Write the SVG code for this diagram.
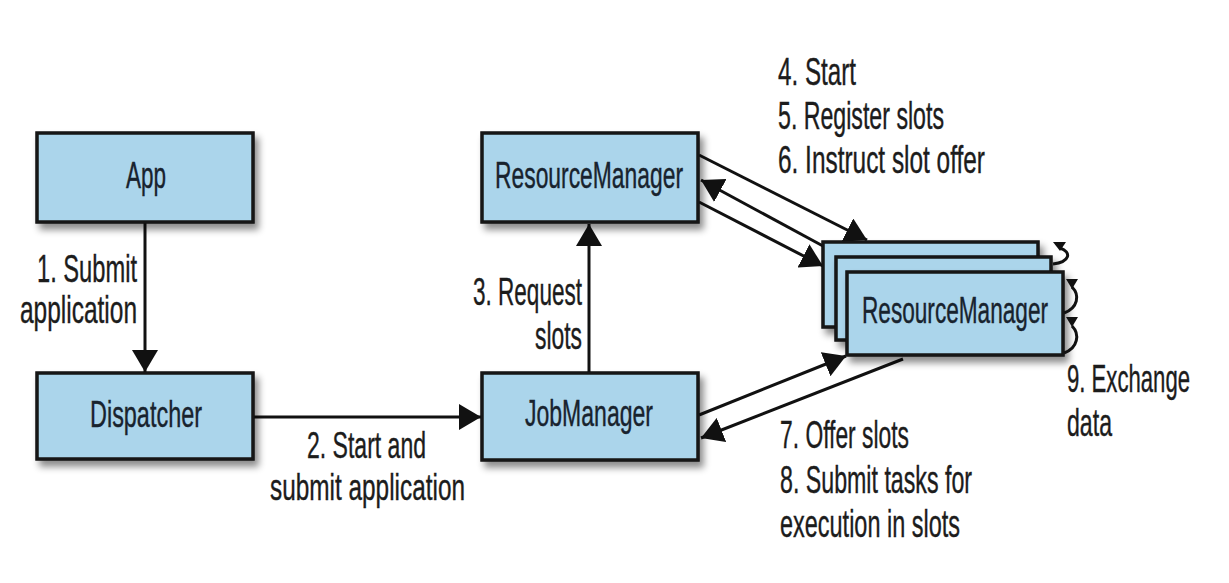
<svg xmlns="http://www.w3.org/2000/svg" width="1229" height="583" viewBox="0 0 1229 583">
<style>
.box{fill:#abd5eb;stroke:#141414;stroke-width:3.5}
.bl{font-family:"Liberation Sans",Arial,sans-serif;font-size:37px;fill:#18232e;stroke:#18232e;stroke-width:0.4}
.lb{font-family:"Liberation Sans",Arial,sans-serif;font-size:39px;fill:#1c1c1c;stroke:#1c1c1c;stroke-width:0.4}
.ln{stroke:#111;stroke-width:3;fill:none}
.hd{fill:#111}
</style>
<defs>
<filter id="sh" x="-10%" y="-10%" width="125%" height="135%">
<feDropShadow dx="4" dy="6" stdDeviation="3.5" flood-color="#000" flood-opacity="0.45"/>
</filter>
<marker id="ah" viewBox="0 0 22 26" refX="22" refY="13" markerWidth="22" markerHeight="26" markerUnits="userSpaceOnUse" orient="auto">
<path d="M0,0 L22,13 L0,26 Z" class="hd"/>
</marker>
</defs>
<rect width="1229" height="583" fill="#ffffff"/>

<g id="connectors">
<line class="ln" x1="145" y1="222" x2="145" y2="372" marker-end="url(#ah)"/>
<line class="ln" x1="253" y1="417" x2="481" y2="417" marker-end="url(#ah)"/>
<line class="ln" x1="589" y1="373" x2="589" y2="224" marker-end="url(#ah)"/>
<line class="ln" x1="699" y1="155" x2="867" y2="240" marker-end="url(#ah)"/>
<line class="ln" x1="823" y1="246" x2="701" y2="180" marker-end="url(#ah)"/>
<line class="ln" x1="699" y1="202" x2="823" y2="266" marker-end="url(#ah)"/>
<line class="ln" x1="699" y1="415" x2="846" y2="356" marker-end="url(#ah)"/>
<line class="ln" x1="903" y1="359" x2="701" y2="438" marker-end="url(#ah)"/>
</g>

<g id="app">
<rect class="box" x="37" y="133" width="216" height="89" filter="url(#sh)"/>
<text class="bl" x="126" y="188" textLength="40" lengthAdjust="spacingAndGlyphs">App</text>
</g>
<g id="dispatcher">
<rect class="box" x="37" y="373" width="216" height="86" filter="url(#sh)"/>
<text class="bl" x="90" y="427" textLength="112" lengthAdjust="spacingAndGlyphs">Dispatcher</text>
</g>
<g id="resourcemanager">
<rect class="box" x="482" y="133" width="216" height="89" filter="url(#sh)"/>
<text class="bl" x="495" y="188" textLength="188" lengthAdjust="spacingAndGlyphs">ResourceManager</text>
</g>
<g id="jobmanager">
<rect class="box" x="482" y="373" width="216" height="87" filter="url(#sh)"/>
<text class="bl" x="525" y="426" textLength="128" lengthAdjust="spacingAndGlyphs">JobManager</text>
</g>
<g id="taskmanagers">
<rect class="box" x="823" y="242" width="215" height="85" filter="url(#sh)"/>
<rect class="box" x="836" y="257" width="215" height="83" filter="url(#sh)"/>
<rect class="box" x="847" y="272" width="216" height="83" filter="url(#sh)"/>
<text class="bl" x="862" y="323" textLength="186" lengthAdjust="spacingAndGlyphs">ResourceManager</text>
<path class="ln" stroke-width="2.5" d="M1060,248 C1072,252 1070,262 1053,264"/>
<path class="hd" d="M1053,242 L1066,242 L1060,251 Z"/>
<path class="ln" stroke-width="2.5" d="M1072,287 C1080,295 1078,308 1064,313"/>
<path class="hd" d="M1066,279 L1078,279 L1072,289 Z"/>
<path class="ln" stroke-width="2.5" d="M1072,326 C1080,334 1078,348 1064,353"/>
<path class="hd" d="M1066,317 L1078,317 L1072,327 Z"/>
</g>

<g id="labels">
<text class="lb" x="37" y="282" textLength="100" lengthAdjust="spacingAndGlyphs">1. Submit</text>
<text class="lb" x="20" y="323" textLength="117" lengthAdjust="spacingAndGlyphs">application</text>
<text class="lb" style="font-size:37px" x="307" y="458" textLength="119" lengthAdjust="spacingAndGlyphs">2. Start and</text>
<text class="lb" style="font-size:37px" x="270" y="500" textLength="195" lengthAdjust="spacingAndGlyphs">submit application</text>
<text class="lb" x="473" y="305" textLength="109" lengthAdjust="spacingAndGlyphs">3. Request</text>
<text class="lb" x="535" y="349" textLength="47" lengthAdjust="spacingAndGlyphs">slots</text>
<text class="lb" x="778" y="85" textLength="78" lengthAdjust="spacingAndGlyphs">4. Start</text>
<text class="lb" x="778" y="129" textLength="166" lengthAdjust="spacingAndGlyphs">5. Register slots</text>
<text class="lb" x="778" y="173" textLength="207" lengthAdjust="spacingAndGlyphs">6. Instruct slot offer</text>
<text class="lb" x="780" y="448" textLength="129" lengthAdjust="spacingAndGlyphs">7. Offer slots</text>
<text class="lb" x="780" y="493" textLength="192" lengthAdjust="spacingAndGlyphs">8. Submit tasks for</text>
<text class="lb" x="780" y="537" textLength="180" lengthAdjust="spacingAndGlyphs">execution in slots</text>
<text class="lb" transform="translate(1067,392) scale(0.6,1)" x="0" y="0" textLength="205" lengthAdjust="spacingAndGlyphs">9. Exchange</text>
<text class="lb" x="1067" y="436" textLength="45" lengthAdjust="spacingAndGlyphs">data</text>
</g>
</svg>
